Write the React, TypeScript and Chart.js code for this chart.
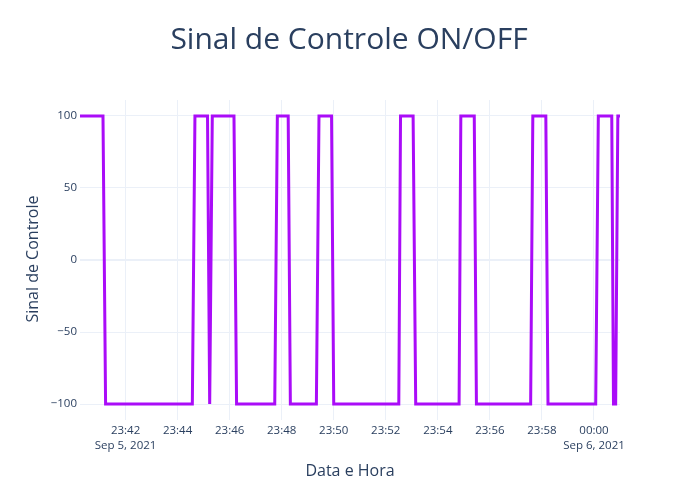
import React, { useEffect, useRef } from "react";
import { Chart, registerables } from "chart.js";

Chart.register(...registerables);

const timeLabels = [
  "23:40:15", "23:41:08", "23:41:14", "23:44:34", "23:44:40", "23:45:09",
  "23:45:14", "23:45:20", "23:46:10", "23:46:16", "23:47:44", "23:47:50",
  "23:48:15", "23:48:20", "23:49:20", "23:49:26", "23:49:55", "23:50:00",
  "23:52:30", "23:52:34", "23:53:03", "23:53:09", "23:54:49", "23:54:53",
  "23:55:24", "23:55:29", "23:57:34", "23:57:39", "23:58:09", "23:58:14",
  "00:00:04", "00:00:10", "00:00:41", "00:00:45", "00:00:50", "00:00:55",
  "00:01:00",
];
const signal = [
  100, 100, -100, -100, 100, 100,
  -100, 100, 100, -100, -100, 100,
  100, -100, -100, 100, 100, -100,
  -100, 100, 100, -100, -100, 100,
  100, -100, -100, 100, 100, -100,
  -100, 100, 100, -100, -100, 100,
  100,
];
const xTickLabels = ["23:42", "23:44", "23:46", "23:48", "23:50", "23:52", "23:54", "23:56", "23:58", "00:00"];
const firstDate = "Sep 5, 2021";
const lastDate = "Sep 6, 2021";
const yTicks = [-100, -50, 0, 50, 100];

const TITLE = "Sinal de Controle ON/OFF";
const X_TITLE = "Data e Hora";
const Y_TITLE = "Sinal de Controle";

// seconds since 23:40:00 (times past midnight roll over)
function toSec(s: string): number {
  const [h, m, sec] = s.split(":").map(Number);
  let total = h * 3600 + m * 60 + sec - (23 * 3600 + 40 * 60);
  if (total < 0) total += 24 * 3600;
  return total;
}

const FONT = "'Open Sans', sans-serif";
const TEXT = "#2a3f5f";
const GRID = "#EBF0F8";

export default function App() {
  const ref = useRef<HTMLCanvasElement | null>(null);
  useEffect(() => {
    document.body.style.margin = "0";
    const canvas = ref.current!;
    const points = timeLabels.map((t, i) => ({ x: toSec(t), y: signal[i] }));
    const xTickVals = xTickLabels.map((l) => toSec(l + ":00"));

    const textPlugin = {
      id: "texts",
      afterDraw(chart: any) {
        const ctx = chart.ctx;
        ctx.save();
        ctx.fillStyle = TEXT;
        ctx.textAlign = "center";
        ctx.textBaseline = "middle";
        ctx.font = `30px ${FONT}`;
        ctx.fillText(TITLE, 349, 40);
        ctx.font = `16px ${FONT}`;
        ctx.fillText(X_TITLE, 350, 471);
        ctx.translate(33, 259);
        ctx.rotate(-Math.PI / 2);
        ctx.fillText(Y_TITLE, 0, 0);
        ctx.restore();
      },
    };

    const chart = new Chart(canvas, {
      type: "line",
      data: {
        datasets: [
          {
            data: points,
            borderColor: "#aa0cf8",
            borderWidth: 3,
            pointRadius: 0,
            tension: 0,
            fill: false,
          },
        ],
      },
      options: {
        animation: false,
        responsive: false,
        maintainAspectRatio: false,
        parsing: false as any,
        layout: { padding: { top: 100, right: 80, left: 0, bottom: 0 } },
        plugins: {
          legend: { display: false },
          tooltip: { enabled: false },
          title: { display: false },
        },
        scales: {
          x: {
            type: "linear",
            min: toSec(timeLabels[0]),
            max: toSec(timeLabels[timeLabels.length - 1]),
            border: { display: false },
            grid: { color: GRID, lineWidth: 1, drawTicks: false },
            afterBuildTicks: (scale: any) => {
              scale.ticks = xTickVals.map((v) => ({ value: v }));
            },
            afterFit: (scale: any) => {
              scale.height = 80;
            },
            ticks: {
              padding: 3,
              maxRotation: 0,
              autoSkip: false,
              color: TEXT,
              font: { family: FONT, size: 11.5, lineHeight: 1.3 },
              callback: (_v: any, i: number) => {
                if (i === 0) return [xTickLabels[i], firstDate];
                if (i === xTickLabels.length - 1) return [xTickLabels[i], lastDate];
                return xTickLabels[i];
              },
            },
          },
          y: {
            type: "linear",
            min: -111.1,
            max: 111.1,
            border: { display: false },
            grid: {
              color: GRID,
              lineWidth: (c: any) => (c.tick && c.tick.value === 0 ? 2 : 1),
              drawTicks: false,
            },
            afterBuildTicks: (scale: any) => {
              scale.ticks = yTicks.map((v) => ({ value: v }));
            },
            afterFit: (scale: any) => {
              scale.width = 80;
            },
            ticks: {
              padding: 3,
              color: TEXT,
              font: { family: FONT, size: 11.5 },
              callback: (v: any) => (Number(v) < 0 ? "\u2212" + Math.abs(Number(v)) : String(v)),
            },
          },
        },
      },
      plugins: [textPlugin],
    } as any);
    return () => chart.destroy();
  }, []);
  return <canvas ref={ref} width={700} height={500} style={{ display: "block" }} />;
}
